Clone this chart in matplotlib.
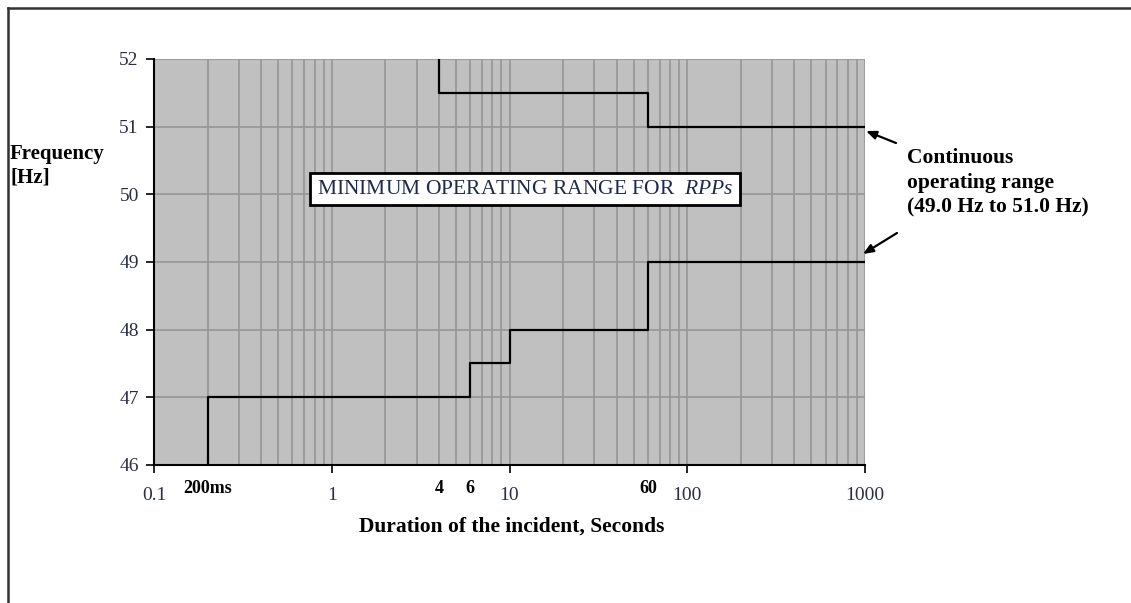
import matplotlib.pyplot as plt
from matplotlib.lines import Line2D
from matplotlib.ticker import LogLocator, FixedLocator, NullFormatter

plt.rcParams['font.family'] = ['Liberation Serif', 'DejaVu Serif']
plt.rcParams['mathtext.fontset'] = 'custom'
plt.rcParams['mathtext.rm'] = 'Liberation Serif'
plt.rcParams['mathtext.it'] = 'Liberation Serif:italic'

# step curves (time in s, frequency in Hz), drawn with where='post'
lower_t = [0.2, 0.2, 6, 10, 60, 1000]
lower_f = [46, 47, 47.5, 48, 49, 49]
upper_t = [4, 4, 60, 1000]
upper_f = [52, 51.5, 51, 51]

x_ticks = [0.1, 1, 10, 100, 1000]
x_ticklabels = ['0.1', '1', '10', '100', '1000']
y_ticks = [46, 47, 48, 49, 50, 51, 52]
marks = [(0.2, '200ms'), (4, '4'), (6, '6'), (60, '60')]

fig = plt.figure(figsize=(11.31, 6.03), dpi=100)
ax = fig.add_axes([0.1362, 0.2289, 0.6286, 0.6733])
ax.set_facecolor('#c0c0c0')

ax.set_xscale('log')
ax.set_xlim(0.1, 1000)
ax.set_ylim(46, 52)

ax.xaxis.set_major_locator(FixedLocator(x_ticks))
ax.set_xticklabels(x_ticklabels)
ax.xaxis.set_minor_locator(LogLocator(base=10, subs=range(2, 10)))
ax.xaxis.set_minor_formatter(NullFormatter())
ax.set_yticks(y_ticks)

ax.grid(True, which='both', axis='x', color='#959595', lw=1.2)
ax.grid(True, which='major', axis='y', color='#959595', lw=1.2)
ax.set_axisbelow(True)

ax.tick_params(axis='x', which='major', direction='out', length=6, width=1.2,
               pad=10, labelsize=14, labelcolor='#2a2f45')
ax.tick_params(axis='x', which='minor', length=0)
ax.tick_params(axis='y', direction='out', length=6, width=1.2, pad=5,
               labelsize=14, labelcolor='#2a2f45')

for s in ['top', 'right']:
    ax.spines[s].set_visible(False)
for s in ['left', 'bottom']:
    ax.spines[s].set_linewidth(1.5)

ax.step(lower_t, lower_f, where='post', color='black', lw=1.6)
ax.step(upper_t, upper_f, where='post', color='black', lw=1.6)

# small bold labels at step times
for t, lab in marks:
    ax.annotate(lab, xy=(t, 46), xytext=(0, -11), textcoords='offset points',
                ha='center', va='top', fontsize=13, fontweight='bold')

ax.text(525 / 1131, 1 - 189 / 603, 'MINIMUM OPERATING RANGE FOR  $\\it{RPPs}$',
        transform=fig.transFigure, ha='center', va='center', fontsize=15.5,
        color='#1f2a4a',
        bbox=dict(boxstyle='square,pad=0.3', fc='white', ec='black', lw=2))

fig.text(10 / 1131, 1 - 166 / 603, 'Frequency\n[Hz]', ha='left', va='center',
         fontsize=15, fontweight='bold', linespacing=1.25)
fig.text(512 / 1131, 1 - 527 / 603, 'Duration of the incident, Seconds',
         ha='center', va='center', fontsize=15.5, fontweight='bold')
fig.text(907 / 1131, 1 - 183 / 603,
         'Continuous\noperating range\n(49.0 Hz to 51.0 Hz)',
         ha='left', va='center', fontsize=15.5, fontweight='bold',
         linespacing=1.32)

arrow = dict(arrowstyle='-|>,head_length=0.6,head_width=0.25', color='black',
             lw=1.6, shrinkA=0, shrinkB=0)
ax.annotate('', xy=(866 / 1131, 1 - 131 / 603), xycoords='figure fraction',
            xytext=(896 / 1131, 1 - 143 / 603), textcoords='figure fraction',
            arrowprops=arrow)
ax.annotate('', xy=(863 / 1131, 1 - 254 / 603), xycoords='figure fraction',
            xytext=(897 / 1131, 1 - 233 / 603), textcoords='figure fraction',
            arrowprops=arrow)

# outer frame (top and left edges)
fig.add_artist(Line2D([8 / 1131, 1], [1 - 8 / 603, 1 - 8 / 603],
                      color='#333333', lw=1.8))
fig.add_artist(Line2D([8 / 1131, 8 / 1131], [0, 1 - 8 / 603],
                      color='#333333', lw=1.8))

fig.savefig('out.png', dpi=100)
